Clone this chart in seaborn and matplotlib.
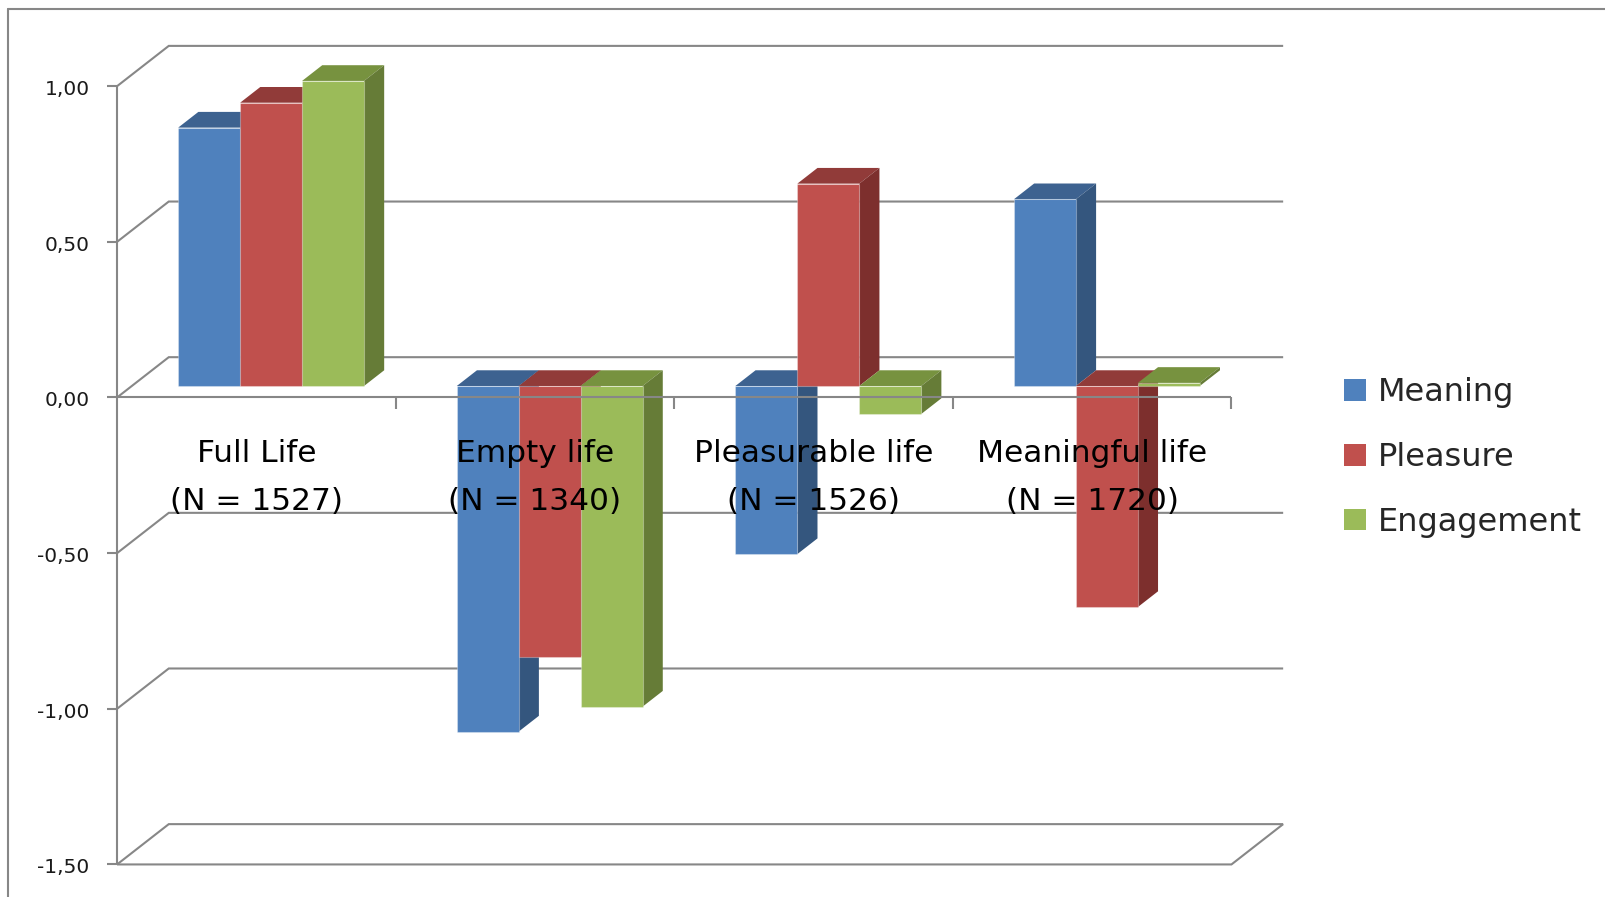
import numpy as np
import pandas as pd
import matplotlib
matplotlib.use("Agg")
import matplotlib.pyplot as plt
from matplotlib.patches import Polygon, Patch
from matplotlib.lines import Line2D
from matplotlib.colors import to_hex
import seaborn as sns

# ---- data -------------------------------------------------------------
categories = ["Full Life", "Empty life", "Pleasurable life", "Meaningful life"]
sample_sizes = [1527, 1340, 1526, 1720]
series = ["Meaning", "Pleasure", "Engagement"]
meaning = [0.83, -1.11, -0.54, 0.60]
pleasure = [0.91, -0.87, 0.65, -0.71]
engagement = [0.98, -1.03, -0.09, 0.01]
y_ticks = [-1.5, -1.0, -0.5, 0.0, 0.5, 1.0]

# ---- styling ------------------------------------------------------------
front_colors = ["#4F81BD", "#C0504D", "#9BBB59"]
top_colors = ["#3D6290", "#913B39", "#77923F"]
side_colors = ["#34567E", "#7D2F2D", "#667C37"]
line_color = "#878787"

W, H, DPI = 1605, 897, 100
CAT_PX = 278.6      # pixels per category
VAL_PX = 311.3      # pixels per unit of value
X0_PX = 271.1       # centre of the first group on the bar plane
Y0_PX = 386.0       # zero level on the bar plane
DEPTH_DX_PX, DEPTH_DY_PX = 51.7, 40.3   # full depth of the floor
FRONT = -0.285      # front edge of the floor, relative to the bar faces
BACK = 0.715        # back wall
BAR_DEPTH = 0.39    # bar thickness as a share of the floor depth
BAR_GROUP_WIDTH = 0.667

sns.set_theme(style="white")
plt.rcParams["font.family"] = ["DejaVu Sans"]

df = pd.DataFrame({
    "category": categories * len(series),
    "series": np.repeat(series, len(categories)),
    "value": meaning + pleasure + engagement,
})

fig = plt.figure(figsize=(W / DPI, H / DPI), dpi=DPI)
ax = fig.add_axes([0, 0, 1, 1])

sns.barplot(data=df, x="category", y="value", hue="series",
            order=categories, hue_order=series, palette=front_colors,
            width=BAR_GROUP_WIDTH, gap=0, dodge=True, errorbar=None,
            saturation=1, legend=False, ax=ax)
bars = list(ax.patches)

ax.set_xlim(-X0_PX / CAT_PX, (W - X0_PX) / CAT_PX)
ax.set_ylim((Y0_PX - H) / VAL_PX, Y0_PX / VAL_PX)
ax.axis("off")

DX = DEPTH_DX_PX / CAT_PX
DY = DEPTH_DY_PX / VAL_PX


def at_depth(x, y, d):
    return x + d * DX, y + d * DY


# ---- walls, floor and gridlines --------------------------------------------
grid_kw = dict(color=line_color, lw=1.5, solid_capstyle="butt",
               solid_joinstyle="miter")
x_left, x_right = -0.5, len(categories) - 0.5
for t in y_ticks:
    xf, yf = at_depth(x_left, t, FRONT)
    xb, yb = at_depth(x_left, t, BACK)
    xb2, _ = at_depth(x_right, t, BACK)
    ax.plot([xf, xb, xb2], [yf, yb, yb], zorder=1, **grid_kw)

# floor outline at the bottom of the scale
lo = min(y_ticks)
xf0, yf0 = at_depth(x_left, lo, FRONT)
xf1, _ = at_depth(x_right, lo, FRONT)
xb1, yb1 = at_depth(x_right, lo, BACK)
ax.plot([xf0, xf1, xb1], [yf0, yf0, yb1], zorder=1, **grid_kw)

# vertical value axis
xa, ya0 = at_depth(x_left, lo, FRONT)
_, ya1 = at_depth(x_left, max(y_ticks), FRONT)
ax.plot([xa, xa], [ya0, ya1], zorder=1, **grid_kw)

# value ticks and labels
tick_len_x = 10 / CAT_PX
for t in y_ticks:
    xf, yf = at_depth(x_left, t, FRONT)
    ax.plot([xf - tick_len_x, xf], [yf, yf], zorder=1, **grid_kw)
    ax.text(xf - 27.5 / CAT_PX, yf - 9.0 / VAL_PX,
            f"{t:.2f}".replace(".", ","), ha="right", va="baseline",
            fontsize=14.5, color="#1a1a1a")

# ---- 3-D bars -------------------------------------------------------------------
bdx, bdy = BAR_DEPTH * DX, BAR_DEPTH * DY
hex_front = [c.lower() for c in front_colors]
for p in bars:
    k = hex_front.index(to_hex(p.get_facecolor()))
    x0, w = p.get_x(), p.get_width()
    y_a, y_b = p.get_y(), p.get_y() + p.get_height()
    y_top, y_bot = max(y_a, y_b), min(y_a, y_b)
    base_z = 3 + 0.1 * k
    top = Polygon([(x0, y_top), (x0 + w, y_top),
                   (x0 + w + bdx, y_top + bdy), (x0 + bdx, y_top + bdy)],
                  closed=True, facecolor=top_colors[k], edgecolor="none",
                  zorder=base_z)
    side = Polygon([(x0 + w, y_bot), (x0 + w, y_top),
                    (x0 + w + bdx, y_top + bdy), (x0 + w + bdx, y_bot + bdy)],
                   closed=True, facecolor=side_colors[k], edgecolor="none",
                   zorder=base_z)
    ax.add_patch(top)
    ax.add_patch(side)
    p.set_zorder(base_z + 0.05)
    p.set_edgecolor((1, 1, 1, 0.3))
    p.set_linewidth(0.8)

# front edge of the floor at zero, drawn over the bars
xz0, yz = at_depth(x_left, 0, FRONT)
xz1, _ = at_depth(x_right, 0, FRONT)
ax.plot([xz0, xz1], [yz, yz], zorder=5, **grid_kw)
for i in range(1, len(categories) + 1):
    xt, yt = at_depth(i - 0.5, 0, FRONT)
    ax.plot([xt, xt], [yt, yt - 12 / VAL_PX], zorder=5, **grid_kw)

# ---- category labels ------------------------------------------------------------
for i, (cat, n) in enumerate(zip(categories, sample_sizes)):
    xc, _ = at_depth(i, 0, FRONT)
    ax.text(xc, (Y0_PX - 461.7) / VAL_PX, cat, ha="center", va="baseline",
            fontsize=22.5, color="black", zorder=6)
    ax.text(xc, (Y0_PX - 510) / VAL_PX, f"(N = {n})", ha="center",
            va="baseline", fontsize=22.5, color="black", zorder=6)

# ---- legend ------------------------------------------------------------------------
handles = [Patch(facecolor=c, edgecolor="none", label=s)
           for c, s in zip(front_colors, series)]
fig.legend(handles=handles, loc="upper left",
           bbox_to_anchor=(1344 / W, 1 - 377 / H), frameon=False,
           fontsize=23, handlelength=0.68, handleheight=0.68,
           handletextpad=0.38, labelspacing=1.06, borderpad=0,
           borderaxespad=0)

# ---- outer frame -----------------------------------------------------------------
fig.add_artist(Line2D([8 / W, 8 / W], [0, 1 - 9 / H], transform=fig.transFigure,
                      color=line_color, lw=1.5))
fig.add_artist(Line2D([8 / W, 1], [1 - 9 / H, 1 - 9 / H],
                      transform=fig.transFigure, color=line_color, lw=1.5))

fig.savefig("out.png", dpi=DPI, facecolor="white")
